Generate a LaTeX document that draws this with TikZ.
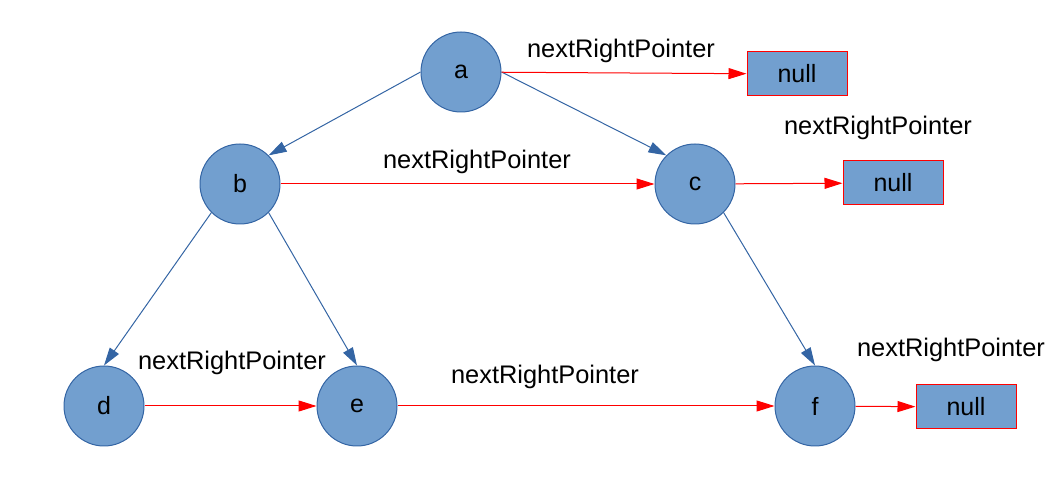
\documentclass[tikz,border=0pt]{standalone}
\usepackage{fontspec}
\setmainfont{Liberation Sans}
\usetikzlibrary{arrows.meta,positioning,shapes}
\definecolor{nodefill}{HTML}{729FCF}
\definecolor{nodeline}{HTML}{3465A4}
\tikzset{
    %Define standard arrow tip
    >={Triangle[length=9pt,width=5.5pt]},
    %Define style for tree nodes
    treenode/.style={
           circle,
           draw=nodeline, line width=0.5pt,
           minimum size=40pt,
           inner sep=0pt,
           font=\fontsize{12.5}{14}\selectfont,
           text centered,
           fill=nodefill},
    nullbox/.style={
           rectangle,
           draw=red, line width=0.5pt,
           minimum width=50pt,
           minimum height=22pt,
           inner sep=0pt,
           font=\fontsize{12.5}{14}\selectfont,
           text centered,
           fill=nodefill},
    % Define arrow styles
    child/.style={->, color=nodeline, line width=0.5pt},
    nxt/.style={->, color=red, line width=0.5pt},
    lbl/.style={font=\fontsize{12.7}{14}\selectfont, inner sep=0pt}
}
\begin{document}
\begin{tikzpicture}[x=0.5pt,y=-0.5pt]
\useasboundingbox (0,0) rectangle (1055,480);
% tree nodes
\node[treenode] (a) at (461,72) {a};
\node[treenode] (b) at (240,184) {b};
\node[treenode] (c) at (695,184) {c};
\node[treenode] (d) at (104,406) {d};
\node[treenode] (e) at (357,406) {e};
\node[treenode] (f) at (815,406) {f};
% null boxes
\node[nullbox] (na) at (797,74) {null};
\node[nullbox] (nc) at (893,183) {null};
\node[nullbox] (nf) at (966,407) {null};
% labels
\node[lbl] (la) at (621,51) {nextRightPointer};
\node[lbl] (lc) at (878,128) {nextRightPointer};
\node[lbl] (lb) at (477,162) {nextRightPointer};
\node[lbl] (ld) at (232,363) {nextRightPointer};
\node[lbl] (le) at (545,377) {nextRightPointer};
\node[lbl] (lf) at (951,350) {nextRightPointer};
\path[child]
	(a.west) edge (b.north east)
	(a.east) edge (c.north west)
	(b.south west) edge (d.north)
	(b.south east) edge (e.north)
	(c.south east) edge (f.north);
\path[nxt]
	(a) edge (na)
	(b) edge (c)
	(c) edge (nc)
	(d) edge (e)
	(e) edge (f)
	(f) edge (nf);
\end{tikzpicture}
\end{document}
